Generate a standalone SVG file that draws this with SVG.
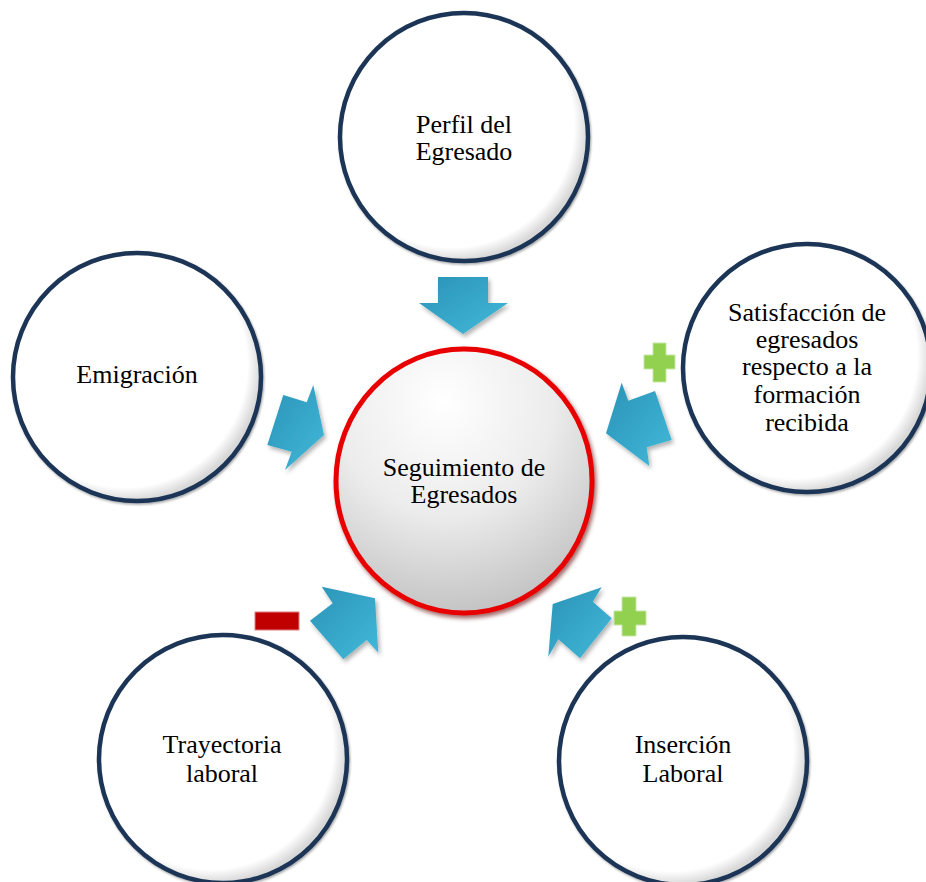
<svg xmlns="http://www.w3.org/2000/svg" width="926" height="882" viewBox="0 0 926 882">
<style>
  .node { fill: url(#nodeFill); stroke: #1c3656; stroke-width: 4.5; filter: url(#soft); }
  .lbl { font-family: "Liberation Serif", "Times New Roman", serif; font-size: 26px; fill: #000; text-anchor: middle; }
  .arrow { fill: url(#arrowFill); filter: url(#shadow); }
  .plus { fill: #92d050; stroke: #c5e6a6; stroke-width: 1; }
  .minus { fill: #c00000; stroke: #e08080; stroke-width: 1; }
</style>
<defs>
  <radialGradient id="nodeFill" cx="0.45" cy="0.45" r="0.55">
    <stop offset="0" stop-color="#ffffff"/>
    <stop offset="0.9" stop-color="#ffffff"/>
    <stop offset="1" stop-color="#d8d8d8"/>
  </radialGradient>
  <radialGradient id="centerFill" cx="0.42" cy="0.2" r="0.95">
    <stop offset="0" stop-color="#ffffff"/>
    <stop offset="0.45" stop-color="#ececec"/>
    <stop offset="1" stop-color="#b4b4b4"/>
  </radialGradient>
  <linearGradient id="arrowFill" x1="0" y1="0" x2="1" y2="1">
    <stop offset="0" stop-color="#2a93b6"/>
    <stop offset="1" stop-color="#42b9da"/>
  </linearGradient>
  <filter id="shadow" x="-20%" y="-20%" width="150%" height="150%">
    <feDropShadow dx="2" dy="3" stdDeviation="2" flood-color="#000" flood-opacity="0.3"/>
  </filter>
  <filter id="soft" x="-10%" y="-10%" width="120%" height="120%">
    <feDropShadow dx="1" dy="1.5" stdDeviation="1.2" flood-color="#000" flood-opacity="0.35"/>
  </filter>
  <filter id="redShadow" x="-10%" y="-10%" width="125%" height="125%">
    <feDropShadow dx="2" dy="3" stdDeviation="2" flood-color="#600000" flood-opacity="0.6"/>
  </filter>
</defs>
<rect width="926" height="882" fill="#ffffff"/>

<g id="node-perfil">
  <circle class="node" cx="464" cy="137" r="124"/>
  <text class="lbl" x="464" y="133">Perfil del</text>
  <text class="lbl" x="464" y="160">Egresado</text>
</g>
<g id="node-emigracion">
  <circle class="node" cx="137" cy="377" r="124"/>
  <text class="lbl" x="137" y="383">Emigración</text>
</g>
<g id="node-satisfaccion">
  <circle class="node" cx="807" cy="368" r="124"/>
  <text class="lbl" x="807" y="321">Satisfacción de</text>
  <text class="lbl" x="807" y="348">egresados</text>
  <text class="lbl" x="807" y="375">respecto a la</text>
  <text class="lbl" x="807" y="403">formación</text>
  <text class="lbl" x="807" y="431">recibida</text>
</g>
<g id="node-trayectoria">
  <circle class="node" cx="223" cy="759" r="124"/>
  <text class="lbl" x="222" y="753">Trayectoria</text>
  <text class="lbl" x="222" y="782">laboral</text>
</g>
<g id="node-insercion">
  <circle class="node" cx="683" cy="761" r="124"/>
  <text class="lbl" x="683" y="753">Inserción</text>
  <text class="lbl" x="683" y="782">Laboral</text>
</g>
<g id="node-center">
  <ellipse cx="464" cy="481" rx="128" ry="132" fill="url(#centerFill)" stroke="#e80000" stroke-width="5" filter="url(#redShadow)"/>
  <text class="lbl" x="464" y="476">Seguimiento de</text>
  <text class="lbl" x="464" y="503">Egresados</text>
</g>

<g id="connectors">
  <polygon class="arrow" points="438,277 488,277 488,303 508,303 463,334 419,303 438,303"/>
  <polygon class="arrow" points="283.3,395 306.7,402.3 313.3,385 324,435 285,470 291.7,451.7 267.3,445"/>
  <polygon class="arrow" points="621.7,382.7 628.3,400.7 655,391 671.7,440 646.7,447.3 649.3,466 606,433.3"/>
  <polygon class="arrow" points="321.7,586.7 375,598.3 378.3,652.7 366.7,640 343.3,659.3 310,620.7 332.7,603.3"/>
  <polygon class="arrow" points="552.7,604 601.7,587.3 592.7,601.7 611.7,618.3 580,658.3 558.3,639.3 548.3,656.7"/>
</g>

<g id="signs">
  <path class="plus" d="M653,343 H666 V355 H675 V369 H666 V382 H653 V369 H644 V355 H653 Z"/>
  <path class="plus" d="M622,597 H636 V611 H646 V625 H636 V636 H622 V625 H614 V611 H622 Z"/>
  <rect class="minus" x="255" y="612" width="44" height="18"/>
</g>
</svg>
